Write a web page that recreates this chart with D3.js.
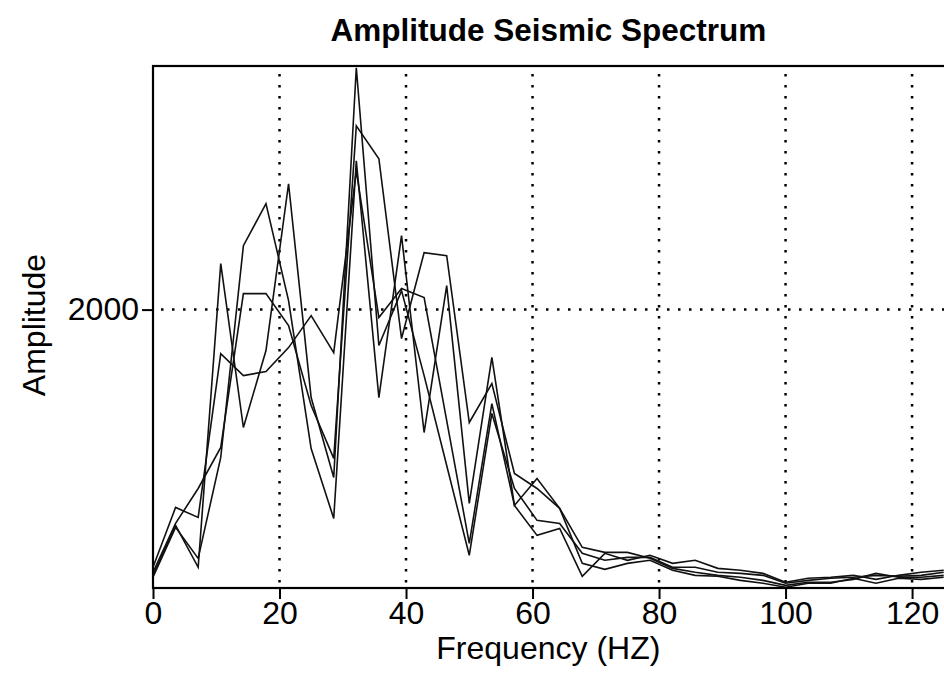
<!DOCTYPE html>
<html>
<head>
<meta charset="utf-8">
<script src="https://cdn.jsdelivr.net/npm/d3@7/dist/d3.min.js"></script>
<style>
  html, body { margin: 0; padding: 0; background: #fff; overflow: hidden; }
  svg { display: block; font-family: "Liberation Sans", Arial, sans-serif; }
</style>
</head>
<body>
<svg id="chart" width="944" height="673"></svg>
<script>
// Frequency bins (Hz)
const freqs = [0, 3.57, 7.14, 10.71, 14.29, 17.86, 21.43, 25, 28.57, 32.14, 35.71, 39.29,
  42.86, 46.43, 50, 53.57, 57.14, 60.71, 64.29, 67.86, 71.43, 75, 78.57, 82.14,
  85.71, 89.29, 92.86, 96.43, 100, 103.57, 107.14, 110.71, 114.29, 117.86, 121.43, 125];

// Amplitude spectra, one per trace
const trace1 = [91, 450, 149, 2330, 1153, 1706, 2904, 1368, 794, 3737, 1742, 2136,
  1526, 880, 235, 1254, 715, 486, 464, 249, 199, 220, 220, 149,
  149, 113, 105, 91, 34, 55, 70, 77, 91, 84, 91, 113];
const trace2 = [149, 579, 507, 1684, 1526, 1555, 1727, 1957, 1691, 2997, 1943, 2151,
  2086, 1203, 321, 1325, 593, 378, 428, 84, 249, 199, 235, 177,
  199, 141, 127, 105, 41, 70, 77, 91, 62, 91, 113, 127];
const trace3 = [113, 464, 715, 1010, 2115, 2115, 1885, 1311, 931, 3320, 3084, 1792,
  2409, 2387, 1189, 1469, 823, 715, 572, 292, 256, 256, 213, 141,
  113, 91, 77, 55, 19, 41, 41, 62, 105, 77, 77, 91];
const trace4 = [77, 436, 213, 938, 2459, 2761, 2065, 1002, 500, 3069, 1368, 2531,
  1117, 2172, 608, 1656, 593, 787, 572, 177, 134, 177, 199, 127,
  91, 84, 55, 34, 5, 34, 34, 70, 34, 70, 62, 77];

const xTicks = [0, 20, 40, 60, 80, 100, 120];
const yTicks = [2000];

const svg = d3.select('#chart');
const plotLeft = 153, plotTop = 66, plotBottom = 588, plotRight = 943.7;

const x = d3.scaleLinear().domain([0, 125]).range([plotLeft, plotRight]);
const y = d3.scaleLinear().domain([0, 3750]).range([plotBottom, plotTop]);

// Dotted grid
const grid = svg.append('g').attr('stroke', '#000').attr('stroke-width', 2.5)
  .attr('stroke-dasharray', '2.5,8.5');
grid.selectAll('.vgrid').data(xTicks.filter(d => d > 0)).enter().append('line')
  .attr('x1', d => x(d)).attr('x2', d => x(d))
  .attr('y1', plotTop + 8).attr('y2', plotBottom);
grid.selectAll('.hgrid').data(yTicks).enter().append('line')
  .attr('x1', plotLeft + 8).attr('x2', 944)
  .attr('y1', d => y(d)).attr('y2', d => y(d));

// Traces
const line = d3.line().x((d, i) => x(freqs[i])).y(d => y(d));
[trace1, trace2, trace3, trace4].forEach(t => {
  svg.append('path').datum(t).attr('d', line)
    .attr('fill', 'none').attr('stroke', '#111').attr('stroke-width', 1.6)
    .attr('stroke-linejoin', 'miter');
});

// Frame (right side sits just outside the window)
svg.append('rect').attr('x', plotLeft).attr('y', plotTop)
  .attr('width', 950 - plotLeft).attr('height', plotBottom - plotTop)
  .attr('fill', 'none').attr('stroke', '#000').attr('stroke-width', 2.2);

// Axes
const xAxis = d3.axisBottom(x).tickValues(xTicks).tickSize(11).tickPadding(2);
const gx = svg.append('g').attr('transform', `translate(0,${plotBottom})`).call(xAxis);
gx.select('.domain').remove();
gx.selectAll('line').attr('stroke', '#000').attr('stroke-width', 2);
gx.selectAll('text').attr('fill', '#000').style('font-size', '32px')
  .style('font-family', '"Liberation Sans", Arial, sans-serif');

const yAxis = d3.axisLeft(y).tickValues(yTicks).tickSize(11).tickPadding(3)
  .tickFormat(d3.format('d'));
const gy = svg.append('g').attr('transform', `translate(${plotLeft},0)`).call(yAxis);
gy.select('.domain').remove();
gy.selectAll('line').attr('stroke', '#000').attr('stroke-width', 2);
gy.selectAll('text').attr('fill', '#000').style('font-size', '32px')
  .style('font-family', '"Liberation Sans", Arial, sans-serif');

// Labels
svg.append('text').attr('x', (plotLeft + plotRight) / 2).attr('y', 41)
  .attr('text-anchor', 'middle').style('font-size', '31.5px').style('font-weight', 'bold')
  .text('Amplitude Seismic Spectrum');
svg.append('text').attr('x', (plotLeft + plotRight) / 2).attr('y', 659)
  .attr('text-anchor', 'middle').style('font-size', '32px')
  .text('Frequency (HZ)');
svg.append('text').attr('transform', 'translate(45,325) rotate(-90)')
  .attr('text-anchor', 'middle').style('font-size', '32px')
  .text('Amplitude');
</script>
</body>
</html>
